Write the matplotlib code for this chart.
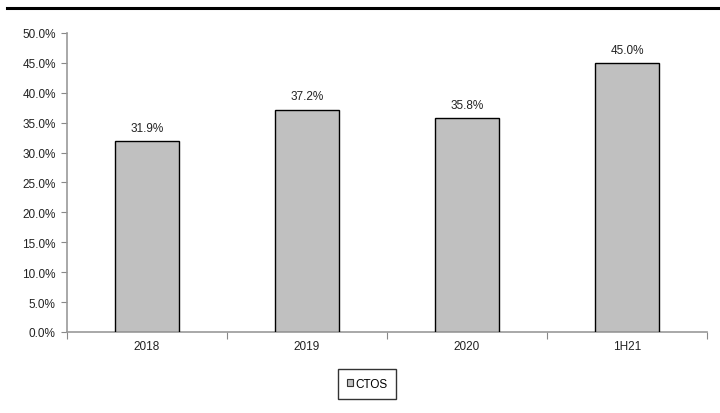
import matplotlib.pyplot as plt
from matplotlib.lines import Line2D

plt.rcParams['font.family'] = ['Liberation Sans', 'DejaVu Sans']

categories = ['2018', '2019', '2020', '1H21']
ctos = [31.9, 37.2, 35.8, 45.0]

fig = plt.figure(figsize=(7.2, 4.14), dpi=100)
ax = fig.add_axes([0.093, 0.1957, 0.889, 0.7222])

x = range(len(categories))
ax.bar(x, ctos, width=0.4, color='#c0c0c0', edgecolor='black', linewidth=1.0,
       label='CTOS', zorder=3)
for xi, v in zip(x, ctos):
    ax.text(xi, v + 1.2, f'{v:.1f}%', ha='center', va='bottom', fontsize=8.5, color='#222222')

ax.set_xlim(-0.5, 3.5)
ax.set_ylim(0, 50)
ax.set_yticks(range(0, 51, 5))
ax.set_yticklabels([f'{v:.1f}%' for v in range(0, 51, 5)], fontsize=8.5, color='#222222')
ax.set_xticks([-0.5, 0.5, 1.5, 2.5, 3.5], minor=False)
ax.set_xticks(list(x), minor=True)
ax.set_xticklabels([])
ax.set_xticklabels(categories, minor=True, fontsize=8.5, color='#222222')
ax.tick_params(axis='x', which='major', length=5, color='#888888', direction='out')
ax.tick_params(axis='x', which='minor', length=0, pad=6)
ax.tick_params(axis='y', length=4, color='#888888', pad=4)

for s in ['top', 'right']:
    ax.spines[s].set_visible(False)
for s in ['left', 'bottom']:
    ax.spines[s].set_color('#999999')
    ax.spines[s].set_linewidth(1.2)

leg = ax.legend(loc='center', bbox_to_anchor=(367 / 720, 1 - 385 / 414), bbox_transform=fig.transFigure,
                frameon=True, fancybox=False, fontsize=8.5, handlelength=0.55, handleheight=0.55,
                handletextpad=0.2, borderpad=0.75, borderaxespad=0)
leg.get_frame().set_edgecolor('black')
leg.get_frame().set_linewidth(1.0)
for h in leg.legend_handles:
    h.set_linewidth(0.8)
    h.set_edgecolor('#333333')

fig.add_artist(Line2D([7 / 720, 1.0], [1 - 9 / 414, 1 - 9 / 414], color='black', linewidth=2.2,
                      transform=fig.transFigure))

fig.savefig('out.png', dpi=100)
